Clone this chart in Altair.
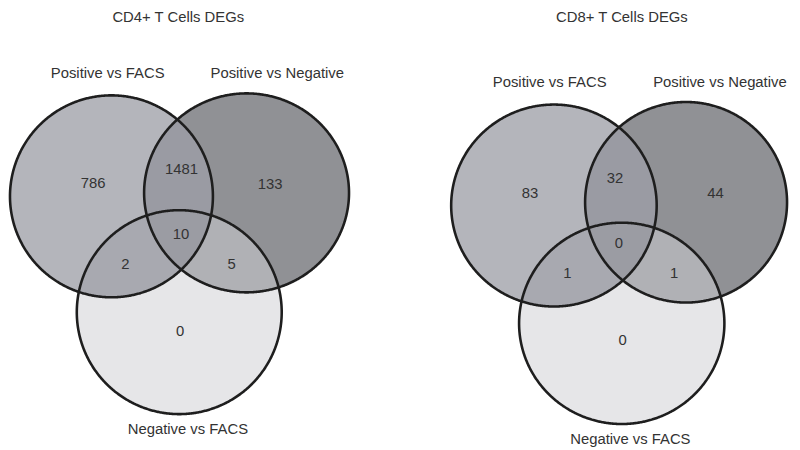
import altair as alt
import numpy as np
import pandas as pd

# ---------------- data ----------------
panel_titles = ["CD4+ T Cells DEGs", "CD8+ T Cells DEGs"]
set_names = ["Positive vs FACS", "Positive vs Negative", "Negative vs FACS"]
region_keys = ["A", "B", "AB", "AC", "BC", "ABC", "C"]
counts_cd4 = [786, 133, 1481, 2, 5, 10, 0]
counts_cd8 = [83, 44, 32, 1, 1, 0, 0]

# ---------------- layout geometry (page pixels) ----------------
# circles: (cx, cy, rx, ry) for sets A, B, C
circles = [
    [(112.5, 196.0, 102.5, 102.0), (249.0, 192.5, 103.5, 100.5), (181.0, 313.0, 103.5, 103.0)],
    [(559.5, 205.3, 103.8, 102.0), (693.0, 202.0, 102.0, 101.3), (628.0, 324.3, 103.7, 101.7)],
]
title_pos = [(180.0, 19.5), (628.2, 19.5)]
set_label_pos = [
    [(108.7, 76.7), (280.0, 76.7), (189.7, 436.0)],
    [(555.2, 86.0), (727.2, 86.0), (636.7, 446.0)],
]
count_pos = [
    [(94.0, 187.3), (272.8, 188.3), (183.3, 173.3), (126.5, 269.0), (234.0, 269.0), (182.7, 239.0), (181.8, 336.7)],
    [(535.3, 197.3), (722.7, 197.3), (621.3, 182.3), (573.0, 278.3), (681.0, 278.3), (625.2, 248.3), (628.8, 345.7)],
]
fill_colors = {
    "A": "#b4b5bb", "B": "#909195", "C": "#e6e6e8",
    "AB": "#9a9ba3", "AC": "#a8a9b0", "BC": "#b0b1b5", "ABC": "#9b9ca3",
}
paint_order = ["A", "B", "C", "AB", "AC", "BC", "ABC"]
idx = {"A": 0, "B": 1, "C": 2}


def ellipse_pts(c, n=1440):
    t = np.linspace(0, 2 * np.pi, n, endpoint=False)
    return np.c_[c[0] + c[2] * np.cos(t), c[1] + c[3] * np.sin(t)]


def inside(p, c):
    return ((p[:, 0] - c[0]) / c[2]) ** 2 + ((p[:, 1] - c[1]) / c[3]) ** 2 <= 1 + 1e-9


def region_polygon(circs, members):
    pts = []
    for k in members:
        P = ellipse_pts(circs[k])
        mask = np.ones(len(P), bool)
        for j in members:
            if j != k:
                mask &= inside(P, circs[j])
        pts.append(P[mask])
    pts = np.vstack(pts)
    ctr = pts.mean(0)
    ang = np.arctan2(pts[:, 1] - ctr[1], pts[:, 0] - ctr[0])
    return pts[np.argsort(ang)]


fill_rows = []
stroke_rows = []
for p, circs in enumerate(circles):
    for key in paint_order:
        members = [idx[ch] for ch in key]
        poly = region_polygon(circs, members)
        for i, (x, y) in enumerate(poly):
            fill_rows.append({"panel": p, "region": key, "i": i, "x": x, "y": y})
    for k, c in enumerate(circs):
        P = ellipse_pts(c, 720)
        P = np.vstack([P, P[:1]])
        for i, (x, y) in enumerate(P):
            stroke_rows.append({"panel": p, "circle": f"{p}-{k}", "i": i, "x": x, "y": y})

fill_df = pd.DataFrame(fill_rows)
stroke_df = pd.DataFrame(stroke_rows)

text_rows = []
for p in range(2):
    counts = counts_cd4 if p == 0 else counts_cd8
    text_rows.append({"x": title_pos[p][0], "y": title_pos[p][1], "label": panel_titles[p]})
    for s in range(3):
        text_rows.append({"x": set_label_pos[p][s][0], "y": set_label_pos[p][s][1], "label": set_names[s]})
    for r in range(len(region_keys)):
        text_rows.append({"x": count_pos[p][r][0], "y": count_pos[p][r][1], "label": str(counts[r])})
text_df = pd.DataFrame(text_rows)

xs = alt.Scale(domain=[8, 800], nice=False, zero=False)
ys = alt.Scale(domain=[8, 450], nice=False, zero=False, reverse=True)
X = alt.X("x:Q", scale=xs, axis=None)
Y = alt.Y("y:Q", scale=ys, axis=None)

layers = []
for key in paint_order:
    layers.append(
        alt.Chart(fill_df)
        .transform_filter(alt.datum.region == key)
        .mark_line(fill=fill_colors[key], strokeOpacity=0, strokeWidth=0, clip=False)
        .encode(x=X, y=Y, order=alt.Order("i:Q"), detail="panel:N")
    )

strokes = (
    alt.Chart(stroke_df)
    .mark_line(color="#1e1e1e", strokeWidth=2.6, clip=False)
    .encode(x=X, y=Y, order=alt.Order("i:Q"), detail="circle:N")
)

texts = (
    alt.Chart(text_df)
    .mark_text(font="Liberation Sans", fontSize=15, color="#333333", baseline="alphabetic", align="center")
    .encode(x=X, y=Y, text="label:N")
)

chart = (
    alt.layer(*layers, strokes, texts)
    .properties(width=792, height=442, padding=0, autosize="none")
    .configure_view(stroke=None)
)

chart.save("out.html", embed_options={"renderer": "svg", "actions": False})
